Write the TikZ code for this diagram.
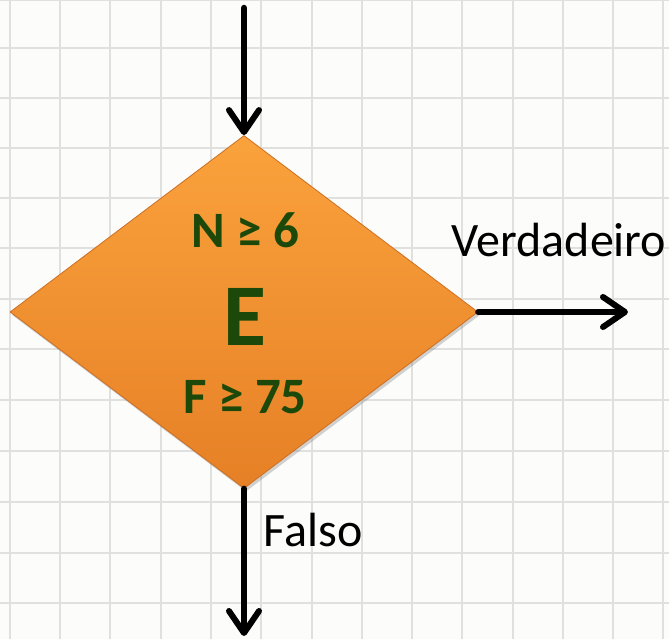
\documentclass[tikz,border=0pt]{standalone}
\usepackage{fontspec}
\setmainfont{Carlito}
\usetikzlibrary{shapes.geometric,arrows.meta,shadows}
\definecolor{bgpaper}{RGB}{252,252,250}
\definecolor{gridline}{RGB}{224,224,222}
\definecolor{orangetop}{RGB}{250,162,60}
\definecolor{orangebot}{RGB}{230,128,38}
\definecolor{orangeedge}{RGB}{205,110,35}
\definecolor{darkgreen}{RGB}{28,72,10}
\tikzset{
  flowarrow/.style={line width=6.5pt, -{Straight Barb[length=22pt,width=30pt,line width=6pt,round]}, line cap=round},
  decision/.style={diamond, inner sep=0pt, minimum width=468pt, minimum height=353pt, aspect=1.33,
    top color=orangetop, bottom color=orangebot, draw=orangeedge, line width=0.8pt,
    drop shadow={shadow xshift=2pt, shadow yshift=-3pt, opacity=0.35}},
  condtext/.style={font=\bfseries\fontsize{51}{56}\selectfont, text=darkgreen, inner sep=0pt},
  bigtext/.style={font=\bfseries\fontsize{88}{92}\selectfont, text=darkgreen, inner sep=0pt},
  labeltext/.style={font=\fontsize{48}{52}\selectfont, text=black, inner sep=0pt}
}
\begin{document}
\begin{tikzpicture}[x=1pt,y=-1pt]
\useasboundingbox (0,0) rectangle (669,639);
\fill[bgpaper] (0,0) rectangle (669,639);
% grid
\foreach \gx in {10,60,110,161,211,261,312,362,412,462,513,563,613,663}
  \draw[gridline, line width=1.3pt] (\gx,0) -- (\gx,639);
\foreach \gy in {0,48,98,148,198,248,299,349,400,451,502,553,603}
  \draw[gridline, line width=1.3pt] (0,\gy) -- (669,\gy);
% diamond
\node[decision] (dec) at (244,312) {};
\node[condtext] (cn) at (245,230) {N ≥ 6};
\node[bigtext] (ce) at (245,317) {E};
\node[condtext] (cf) at (245,397) {F ≥ 75};
% connectors
\coordinate (start) at (244,8);
\coordinate (trueend) at (628,312);
\coordinate (falseend) at (244,636);
\draw[flowarrow] (start) -- (dec.north);
\draw[flowarrow] (dec.east) -- (trueend);
\draw[flowarrow] (dec.south) -- (falseend);
\node[labeltext] (vlabel) at (559,240) {Verdadeiro};
\node[labeltext] (flabel) at (313,530) {Falso};
\end{tikzpicture}
\end{document}
